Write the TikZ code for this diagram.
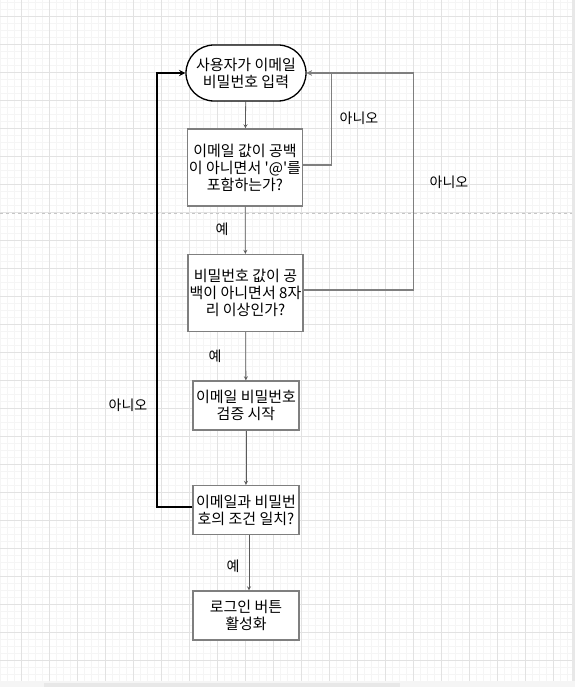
\documentclass[tikz,border=0pt]{standalone}
\usepackage{fontspec}
\newfontfamily\krfont{Noto Sans CJK KR}
\usetikzlibrary{arrows}
\usetikzlibrary{positioning}
\definecolor{gridmajor}{HTML}{E2E2E2}
\definecolor{gridminor}{HTML}{F5F5F5}
\definecolor{boxline}{HTML}{7F7F7F}
\definecolor{arrline}{HTML}{5A5A5A}

\begin{document}
\begin{tikzpicture}[x=1pt,y=-1pt,>=stealth,
  every node/.style={font=\krfont\fontsize{15}{17}\selectfont,align=center,inner sep=0pt},
  box/.style={draw=boxline,line width=1.3pt,fill=white,minimum width=106pt,minimum height=49pt},
  bigbox/.style={box,minimum width=115pt,minimum height=77pt},
  terminal/.style={draw=black,line width=1.3pt,fill=white,rounded corners=28pt,minimum width=120pt,minimum height=56pt},
  flow/.style={->,draw=arrline,line width=0.8pt},
  noline/.style={->,draw=boxline,line width=1.3pt},
  backline/.style={->,draw=black,line width=1.8pt},
  tag/.style={font=\krfont\fontsize{14}{16}\selectfont}]
  \useasboundingbox (0,0) rectangle (575,687);
  % background grid
  \fill[white] (0,0) rectangle (575,687);
  \foreach \gx in {0,7,...,571} \draw[gridminor,line width=0.6pt] (\gx,0) -- (\gx,681);
  \foreach \gy in {2,9,...,681} \draw[gridminor,line width=0.6pt] (0,\gy) -- (572,\gy);
  \foreach \gx in {21,49,...,571} \draw[gridmajor,line width=0.8pt] (\gx,0) -- (\gx,681);
  \foreach \gy in {16,44,...,681} \draw[gridmajor,line width=0.8pt] (0,\gy) -- (572,\gy);
  \draw[gray!45,dashed,line width=0.6pt,dash pattern=on 3pt off 3pt] (0,213) -- (572,213);
  \fill[gray!8] (0,681) rectangle (575,687);
  \fill[gray!18] (44,683) rectangle (400,687);
  \fill[gray!18] (572,0) rectangle (575,681);

  \node[terminal] (start) at (246,73) {사용자가 이메일\\비밀번호 입력};
  \node[bigbox] (q1) at (245,167.5) {이메일 값이 공백\\이 아니면서 '@'를\\포함하는가?};
  \node[bigbox] (q2) at (245.5,293) {비밀번호 값이 공\\백이 아니면서 8자\\리 이상인가?};
  \node[box] (verify) at (246,405.5) {이메일 비밀번호\\검증 시작};
  \node[box] (q3) at (246,510) {이메일과 비밀번\\호의 조건 일치?};
  \node[box] (login) at (246,615.5) {로그인 버튼\\활성화};

  \draw[flow](start)--(q1);
  \draw[flow](q1)--(q2);
  \draw[flow](q2)--(verify);
  \draw[flow](verify)--(q3);
  \draw[flow]([xshift=3pt]q3.south)--([xshift=3pt]login.north);
  \draw[noline]([yshift=2.5pt]q1.east) -- ++(28,0) |- (start.east);
  \draw[noline]([yshift=3pt]q2.east) -- ++(110,0) |- (start.east);
  \draw[backline]([yshift=3pt]q3.west) -- ++(-35,0) |- (start.west);

  \node[tag] (yes1) at (222,229) {예};
  \node[tag] (yes2) at (215,356) {예};
  \node[tag] (yes3) at (233,566) {예};
  \node[tag] (no1) at (359,118) {아니오};
  \node[tag] (no2) at (449,182) {아니오};
  \node[tag] (no3) at (128,405) {아니오};
\end{tikzpicture}
\end{document}
